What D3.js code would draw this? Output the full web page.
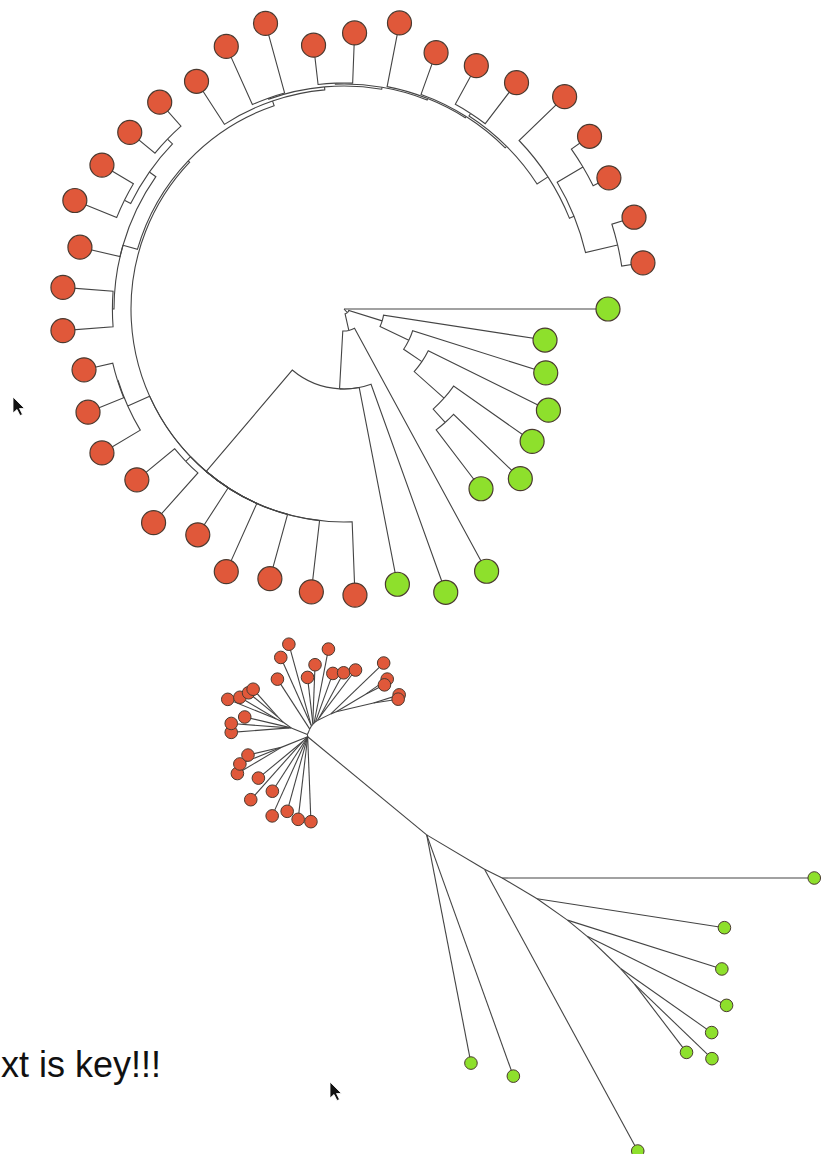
<!DOCTYPE html>
<html>
<head>
<meta charset="utf-8">
<script src="https://cdn.jsdelivr.net/npm/d3@7"></script>
<style>
  body { margin: 0; background: #fff; }
  svg { display: block; }
</style>
</head>
<body>
<div id="chart"></div>
<script>
// tree as edge rows: [node, parent, branch length]
const backboneEdges = [
  ["R", "", 0],
  ["G0", "R", 0.264],
  ["A", "R", 0.005],
  ["B", "A", 0.035],
  ["C", "A", 0.017],
  ["G7", "C", 0.2765],
  ["X", "C", 0.058],
  ["G8", "X", 0.221],
  ["G9", "X", 0.2004],
  ["RR", "X", 0.133]
];
const greenCladeEdges = [
  ["G1", "B", 0.1634],
  ["B2", "B", 0.032],
  ["G2", "B2", 0.1396],
  ["B3", "B2", 0.022],
  ["G3", "B3", 0.1341],
  ["B4", "B3", 0.040],
  ["G4", "B4", 0.096],
  ["B5", "B4", 0.018],
  ["G5", "B5", 0.0927],
  ["G6", "B5", 0.074]
];
const redCladeEdges = [
  ["R10", "RR", 0.0733],
  ["R11", "RR", 0.0717],
  ["R12", "RR", 0.0667],
  ["R13", "RR", 0.0748],
  ["R14", "RR", 0.056],
  ["P15", "RR", 0.0066],
  ["T17", "RR", 0.024],
  ["H20", "RR", 0.002],
  ["R15", "P15", 0.0666],
  ["R16", "P15", 0.0489],
  ["R17", "T17", 0.0446],
  ["T18", "T17", 0.0005],
  ["R18", "T18", 0.0385],
  ["R19", "T18", 0.0295],
  ["Ha", "H20", 0.015],
  ["Hb", "H20", 0.005],
  ["P20", "Ha", 0.0016],
  ["R22", "Ha", 0.0412],
  ["W23", "Ha", 0.008],
  ["R20", "P20", 0.0503],
  ["R21", "P20", 0.0503],
  ["P23", "W23", 0.007],
  ["P25", "W23", 0.007],
  ["R23", "P23", 0.0452],
  ["R24", "P23", 0.0366],
  ["R25", "P25", 0.0327],
  ["R26", "P25", 0.032],
  ["R27", "Hb", 0.0513],
  ["Hc", "Hb", 0.003],
  ["P28", "Hc", 0.001],
  ["Hd", "Hc", 0.002],
  ["R28", "P28", 0.0638],
  ["R29", "P28", 0.0722],
  ["P30", "Hd", 0.001],
  ["He", "Hd", 0.0015],
  ["R30", "P30", 0.0396],
  ["R31", "P30", 0.0503],
  ["R32", "He", 0.0649],
  ["Hf", "He", 0.0015],
  ["R33", "Hf", 0.0444],
  ["Hg", "Hf", 0.002],
  ["P34", "Hg", 0.003],
  ["N36", "Hg", 0.013],
  ["R34", "P34", 0.044],
  ["R35", "P34", 0.0516],
  ["R36", "N36", 0.0632],
  ["N37", "N36", 0.005],
  ["P37", "N37", 0.030],
  ["P39", "N37", 0.033],
  ["R37", "P37", 0.0222],
  ["R38", "P37", 0.0176],
  ["R39", "P39", 0.0232],
  ["R40", "P39", 0.0215]
];

const greenLeaves = ["G0", "G1", "G2", "G3", "G4", "G5", "G6", "G7", "G8", "G9"];
const redLeaves = d3.range(10, 41).map(i => "R" + i);
const caption = "xt is key!!!";

const width = 825;
const height = 1154;

const svg = d3.select('#chart')
  .append('svg')
  .attr('width', width)
  .attr('height', height);

const edges = backboneEdges.concat(greenCladeEdges, redCladeEdges);
const root = d3.stratify()
  .id(d => d[0])
  .parentId(d => d[1])(edges);

root.eachBefore(d => {
  d.len = d.data[2];
  d.dist = d.parent ? d.parent.dist + d.len : 0;
});

const clade = new Map();
greenLeaves.forEach(id => clade.set(id, "green"));
redLeaves.forEach(id => clade.set(id, "red"));
const fill = d3.scaleOrdinal()
  .domain(["green", "red"])
  .range(["#8ee02c", "#e0583a"]);

const nLeaves = root.leaves().length;
d3.cluster().size([360, 1]).separation(() => 1)(root);
const offset = 180 / nLeaves;
root.each(d => { d.angle = d.x - offset; });

const rad = a => a * Math.PI / 180;

// ---- circular phylogram (top) ----
const rTop = d3.scaleLinear().domain([0, 0.1]).range([0, 100]);

const gTop = svg.append('g')
  .attr('transform', 'translate(344,309)');

function stepLink(l) {
  const a0 = rad(l.source.angle), a1 = rad(l.target.angle);
  const r0 = rTop(l.source.dist), r1 = rTop(l.target.dist);
  const p = d3.path();
  p.moveTo(r0 * Math.cos(a0), r0 * Math.sin(a0));
  p.arc(0, 0, r0, a0, a1, a1 < a0);
  p.lineTo(r1 * Math.cos(a1), r1 * Math.sin(a1));
  return p.toString();
}

gTop.selectAll('path.link')
  .data(root.links())
  .enter()
  .append('path')
  .attr('class', 'link')
  .attr('fill', 'none')
  .attr('stroke', '#444')
  .attr('stroke-width', 1.1)
  .attr('d', stepLink);

gTop.selectAll('circle')
  .data(root.leaves())
  .enter()
  .append('circle')
  .attr('cx', d => rTop(d.dist) * Math.cos(rad(d.angle)))
  .attr('cy', d => rTop(d.dist) * Math.sin(rad(d.angle)))
  .attr('r', 12)
  .attr('fill', d => fill(clade.get(d.id)))
  .attr('stroke', '#4a3a30')
  .attr('stroke-width', 1.2);

// ---- unrooted equal-angle layout (bottom) ----
const rBottom = d3.scaleLinear().domain([0, 0.1]).range([0, 116]);

function equalAngle(node, start, end, x, y) {
  node.ux = x;
  node.uy = y;
  const total = node.leaves().length;
  let a = start;
  (node.children || []).forEach(c => {
    const w = (end - start) * c.leaves().length / total;
    const mid = rad(a + w / 2);
    const len = rBottom(c.len);
    equalAngle(c, a, a + w, x + len * Math.cos(mid), y + len * Math.sin(mid));
    a += w;
  });
}
equalAngle(root, -offset, 360 - offset, 0, 0);

const gBottom = svg.append('g')
  .attr('transform', 'translate(508,878)');

gBottom.selectAll('line')
  .data(root.links())
  .enter()
  .append('line')
  .attr('x1', d => d.source.ux)
  .attr('y1', d => d.source.uy)
  .attr('x2', d => d.target.ux)
  .attr('y2', d => d.target.uy)
  .attr('stroke', '#444')
  .attr('stroke-width', 1.1);

gBottom.selectAll('circle')
  .data(root.leaves())
  .enter()
  .append('circle')
  .attr('cx', d => d.ux)
  .attr('cy', d => d.uy)
  .attr('r', 6.3)
  .attr('fill', d => fill(clade.get(d.id)))
  .attr('stroke', '#4a3a30')
  .attr('stroke-width', 1);

// caption (cut off at the left edge in the original capture)
svg.append('text')
  .attr('x', 1)
  .attr('y', 1077)
  .attr('font-family', 'Liberation Sans, Arial, sans-serif')
  .attr('font-size', 36)
  .attr('fill', '#111')
  .text(caption);

// mouse pointers caught in the screenshot
const arrow = 'M0,0 L0,16 L4,12.5 L7,18.5 L9.5,17.5 L6.5,11.5 L11.5,11.5 Z';
[[13, 397], [330, 1082]].forEach(p => {
  svg.append('path')
    .attr('d', arrow)
    .attr('transform', `translate(${p[0]},${p[1]})`)
    .attr('fill', '#111')
    .attr('stroke', '#fff')
    .attr('stroke-width', 0.8);
});
</script>
</body>
</html>
